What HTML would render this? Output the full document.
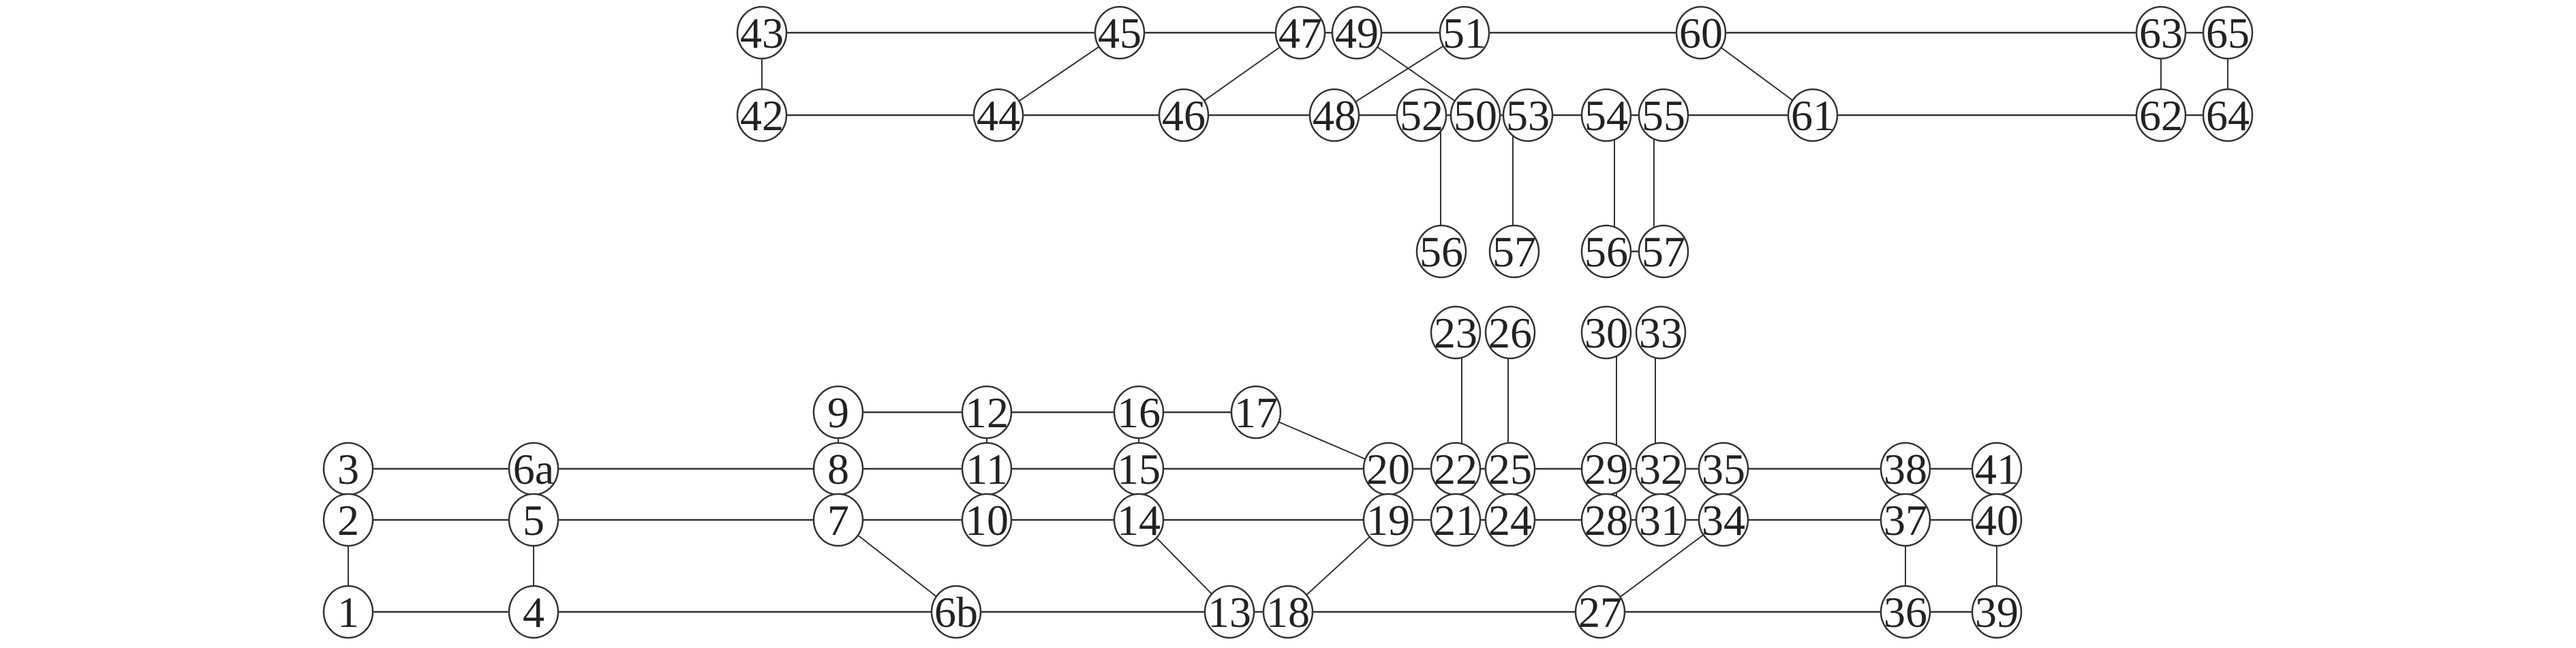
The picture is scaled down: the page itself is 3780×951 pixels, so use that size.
<!DOCTYPE html>
<html><head><meta charset="utf-8"><style>
html,body{margin:0;padding:0;background:#fff;}
svg{display:block;}
text{font-family:"Liberation Serif",serif;font-size:64px;fill:#222;text-anchor:middle;}
</style></head><body>
<svg width="3780" height="951" viewBox="0 0 3780 951" xmlns="http://www.w3.org/2000/svg">
<g stroke="#333" stroke-width="2.5" fill="none">
<line x1="1118" y1="48" x2="3269" y2="48"/>
<line x1="1118" y1="169" x2="3269" y2="169"/>
<line x1="2357" y1="369" x2="2441" y2="369"/>
<line x1="1230" y1="605" x2="1843" y2="605"/>
<line x1="511" y1="688" x2="2930" y2="688"/>
<line x1="511" y1="763" x2="2930" y2="763"/>
<line x1="511" y1="898" x2="2930" y2="898"/>
</g>
<g stroke="#333" stroke-width="2" fill="none">
<line x1="511" y1="688" x2="511" y2="898"/>
<line x1="783" y1="688" x2="783" y2="898"/>
<line x1="1230" y1="605" x2="1230" y2="763"/>
<line x1="1448" y1="605" x2="1448" y2="763"/>
<line x1="1671" y1="605" x2="1671" y2="763"/>
<line x1="2037" y1="688" x2="2037" y2="763"/>
<line x1="2145" y1="488" x2="2145" y2="763"/>
<line x1="2213" y1="488" x2="2213" y2="763"/>
<line x1="2372" y1="488" x2="2372" y2="763"/>
<line x1="2429" y1="488" x2="2429" y2="763"/>
<line x1="2529" y1="688" x2="2529" y2="763"/>
<line x1="2796" y1="688" x2="2796" y2="898"/>
<line x1="2930" y1="688" x2="2930" y2="898"/>
<line x1="1118" y1="48" x2="1118" y2="169"/>
<line x1="3171" y1="48" x2="3171" y2="169"/>
<line x1="3269" y1="48" x2="3269" y2="169"/>
<line x1="2114" y1="169" x2="2114" y2="369"/>
<line x1="2220" y1="169" x2="2220" y2="369"/>
<line x1="2369" y1="169" x2="2369" y2="369"/>
<line x1="2427" y1="169" x2="2427" y2="369"/>
<line x1="1643" y1="48" x2="1465" y2="169"/>
<line x1="1908" y1="48" x2="1737" y2="169"/>
<line x1="2149" y1="48" x2="1958" y2="169"/>
<line x1="1991" y1="48" x2="2165" y2="169"/>
<line x1="2496" y1="48" x2="2660" y2="169"/>
<line x1="1843" y1="605" x2="2037" y2="688"/>
<line x1="1230" y1="763" x2="1403" y2="898"/>
<line x1="1671" y1="763" x2="1804" y2="898"/>
<line x1="2037" y1="763" x2="1890" y2="898"/>
<line x1="2529" y1="763" x2="2348" y2="898"/>
</g>
<g stroke="#333" stroke-width="2.5" fill="#fff">
<ellipse cx="1118" cy="48" rx="36" ry="38"/><ellipse cx="1643" cy="48" rx="36" ry="38"/><ellipse cx="1908" cy="48" rx="36" ry="38"/><ellipse cx="1991" cy="48" rx="36" ry="38"/><ellipse cx="2149" cy="48" rx="36" ry="38"/><ellipse cx="2496" cy="48" rx="36" ry="38"/><ellipse cx="3171" cy="48" rx="36" ry="38"/><ellipse cx="3269" cy="48" rx="36" ry="38"/>
<ellipse cx="1118" cy="169" rx="36" ry="38"/><ellipse cx="1465" cy="169" rx="36" ry="38"/><ellipse cx="1737" cy="169" rx="36" ry="38"/><ellipse cx="1958" cy="169" rx="36" ry="38"/><ellipse cx="2086" cy="169" rx="36" ry="38"/><ellipse cx="2165" cy="169" rx="36" ry="38"/><ellipse cx="2242" cy="169" rx="36" ry="38"/><ellipse cx="2357" cy="169" rx="36" ry="38"/><ellipse cx="2441" cy="169" rx="36" ry="38"/><ellipse cx="2660" cy="169" rx="36" ry="38"/><ellipse cx="3171" cy="169" rx="36" ry="38"/><ellipse cx="3269" cy="169" rx="36" ry="38"/>
<ellipse cx="2115" cy="369" rx="36" ry="38"/><ellipse cx="2222" cy="369" rx="36" ry="38"/><ellipse cx="2357" cy="369" rx="36" ry="38"/><ellipse cx="2441" cy="369" rx="36" ry="38"/>
<ellipse cx="2136" cy="488" rx="36" ry="38"/><ellipse cx="2216" cy="488" rx="36" ry="38"/><ellipse cx="2357" cy="488" rx="36" ry="38"/><ellipse cx="2437" cy="488" rx="36" ry="38"/>
<ellipse cx="1230" cy="605" rx="36" ry="38"/><ellipse cx="1448" cy="605" rx="36" ry="38"/><ellipse cx="1671" cy="605" rx="36" ry="38"/><ellipse cx="1843" cy="605" rx="36" ry="38"/>
<ellipse cx="511" cy="688" rx="36" ry="38"/><ellipse cx="783" cy="688" rx="36" ry="38"/><ellipse cx="1230" cy="688" rx="36" ry="38"/><ellipse cx="1448" cy="688" rx="36" ry="38"/><ellipse cx="1671" cy="688" rx="36" ry="38"/><ellipse cx="2037" cy="688" rx="36" ry="38"/><ellipse cx="2136" cy="688" rx="36" ry="38"/><ellipse cx="2216" cy="688" rx="36" ry="38"/><ellipse cx="2357" cy="688" rx="36" ry="38"/><ellipse cx="2437" cy="688" rx="36" ry="38"/><ellipse cx="2529" cy="688" rx="36" ry="38"/><ellipse cx="2796" cy="688" rx="36" ry="38"/><ellipse cx="2930" cy="688" rx="36" ry="38"/>
<ellipse cx="511" cy="763" rx="36" ry="38"/><ellipse cx="783" cy="763" rx="36" ry="38"/><ellipse cx="1230" cy="763" rx="36" ry="38"/><ellipse cx="1448" cy="763" rx="36" ry="38"/><ellipse cx="1671" cy="763" rx="36" ry="38"/><ellipse cx="2037" cy="763" rx="36" ry="38"/><ellipse cx="2136" cy="763" rx="36" ry="38"/><ellipse cx="2216" cy="763" rx="36" ry="38"/><ellipse cx="2357" cy="763" rx="36" ry="38"/><ellipse cx="2437" cy="763" rx="36" ry="38"/><ellipse cx="2529" cy="763" rx="36" ry="38"/><ellipse cx="2796" cy="763" rx="36" ry="38"/><ellipse cx="2930" cy="763" rx="36" ry="38"/>
<ellipse cx="511" cy="898" rx="36" ry="38"/><ellipse cx="783" cy="898" rx="36" ry="38"/><ellipse cx="1403" cy="898" rx="36" ry="38"/><ellipse cx="1804" cy="898" rx="36" ry="38"/><ellipse cx="1890" cy="898" rx="36" ry="38"/><ellipse cx="2348" cy="898" rx="36" ry="38"/><ellipse cx="2796" cy="898" rx="36" ry="38"/><ellipse cx="2930" cy="898" rx="36" ry="38"/>
</g>
<g>
<text x="1118" y="70">43</text><text x="1643" y="70">45</text><text x="1908" y="70">47</text><text x="1991" y="70">49</text><text x="2149" y="70">51</text><text x="2496" y="70">60</text><text x="3171" y="70">63</text><text x="3269" y="70">65</text>
<text x="1118" y="191">42</text><text x="1465" y="191">44</text><text x="1737" y="191">46</text><text x="1958" y="191">48</text><text x="2086" y="191">52</text><text x="2165" y="191">50</text><text x="2242" y="191">53</text><text x="2357" y="191">54</text><text x="2441" y="191">55</text><text x="2660" y="191">61</text><text x="3171" y="191">62</text><text x="3269" y="191">64</text>
<text x="2115" y="391">56</text><text x="2222" y="391">57</text><text x="2357" y="391">56</text><text x="2441" y="391">57</text>
<text x="2136" y="510">23</text><text x="2216" y="510">26</text><text x="2357" y="510">30</text><text x="2437" y="510">33</text>
<text x="1230" y="627">9</text><text x="1448" y="627">12</text><text x="1671" y="627">16</text><text x="1843" y="627">17</text>
<text x="511" y="710">3</text><text x="783" y="710">6a</text><text x="1230" y="710">8</text><text x="1448" y="710">11</text><text x="1671" y="710">15</text><text x="2037" y="710">20</text><text x="2136" y="710">22</text><text x="2216" y="710">25</text><text x="2357" y="710">29</text><text x="2437" y="710">32</text><text x="2529" y="710">35</text><text x="2796" y="710">38</text><text x="2930" y="710">41</text>
<text x="511" y="785">2</text><text x="783" y="785">5</text><text x="1230" y="785">7</text><text x="1448" y="785">10</text><text x="1671" y="785">14</text><text x="2037" y="785">19</text><text x="2136" y="785">21</text><text x="2216" y="785">24</text><text x="2357" y="785">28</text><text x="2437" y="785">31</text><text x="2529" y="785">34</text><text x="2796" y="785">37</text><text x="2930" y="785">40</text>
<text x="511" y="920">1</text><text x="783" y="920">4</text><text x="1403" y="920">6b</text><text x="1804" y="920">13</text><text x="1890" y="920">18</text><text x="2348" y="920">27</text><text x="2796" y="920">36</text><text x="2930" y="920">39</text>
</g>
</svg>
</body></html>
